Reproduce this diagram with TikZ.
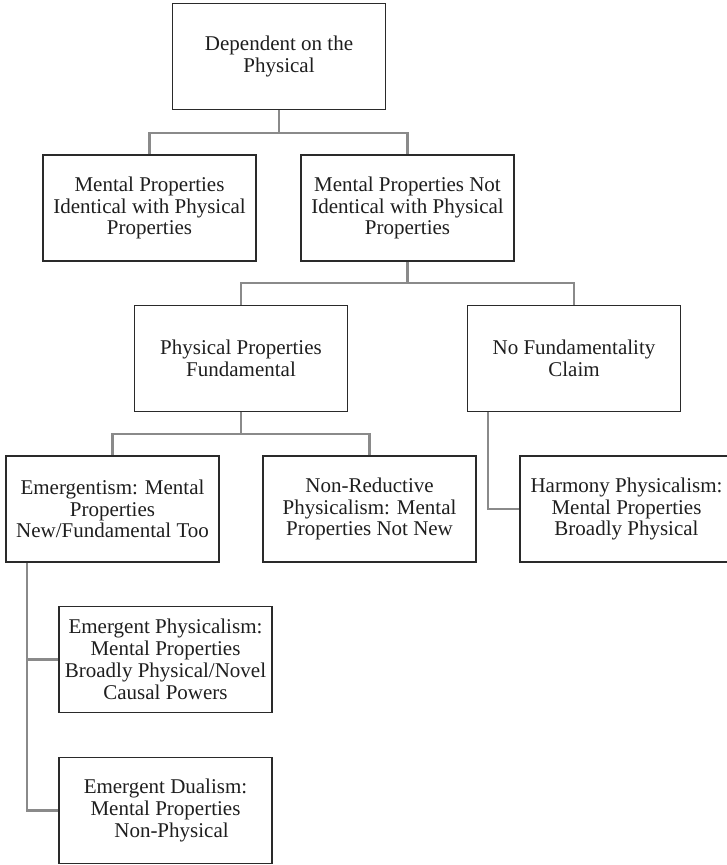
\documentclass[tikz,border=0pt]{standalone}
\usepackage{fontspec}
\setmainfont{Liberation Serif}
\definecolor{boxc}{HTML}{2A2A2A}
\definecolor{linec}{HTML}{8A8A8A}
\definecolor{txtc}{HTML}{1E1E1E}
\begin{document}
\begin{tikzpicture}[x=1pt,y=-1pt,
  box/.style={draw=boxc, line width=1.6pt, rectangle, minimum width=213pt, minimum height=106pt,
    inner sep=0pt, align=center, text=txtc, font=\fontsize{21}{21.8}\selectfont},
  conn/.style={draw=linec, line width=2.2pt}]
\useasboundingbox (0,0) rectangle (726,865);
\node[box] (b1) at (279,56.5) {Dependent on the\\Physical};
\node[box] (b2) at (149.5,208) {Mental Properties\\Identical with Physical\\Properties};
\node[box] (b3) at (407.5,208) {Mental Properties Not\\Identical with Physical\\Properties};
\node[box] (b4) at (241,358.5) {Physical Properties\\Fundamental};
\node[box] (b5) at (574,358.5) {No Fundamentality\\Claim};
\node[box] (b6) at (112.5,509) {Emergentism: Mental\\Properties\\New/Fundamental Too};
\node[box] (b7) at (369.5,509) {Non-Reductive\\Physicalism: Mental\\Properties Not New};
\node[box] (b8) at (626.5,509) {Harmony Physicalism:\\Mental Properties\\Broadly Physical};
\node[box] (b9) at (165.5,659.5) {Emergent Physicalism:\\Mental Properties\\Broadly Physical/Novel\\Causal Powers};
\node[box] (b10) at (165.5,810.5) {Emergent Dualism:\\Mental Properties\\\hspace*{12pt}Non-Physical};
\coordinate (j1) at (279,133);
\coordinate (j2) at (407.5,283);
\coordinate (j3) at (241,434);
\coordinate (s5) at ([xshift=21pt]b5.south west);
\coordinate (s6) at ([xshift=22pt]b6.south west);
\draw[conn] (b1.south) -- (j1);
\draw[conn] (b2.north) |- (j1) -| (b3.north);
\draw[conn] (b3.south) -- (j2);
\draw[conn] (b4.north) |- (j2) -| (b5.north);
\draw[conn] (b4.south) -- (j3);
\draw[conn] (b6.north) |- (j3) -| (b7.north);
\draw[conn] (s5) |- (b8.west);
\draw[conn] (s6) |- (b10.west);
\draw[conn] (b9.west) -- (b9.west -| s6);
\end{tikzpicture}
\end{document}
